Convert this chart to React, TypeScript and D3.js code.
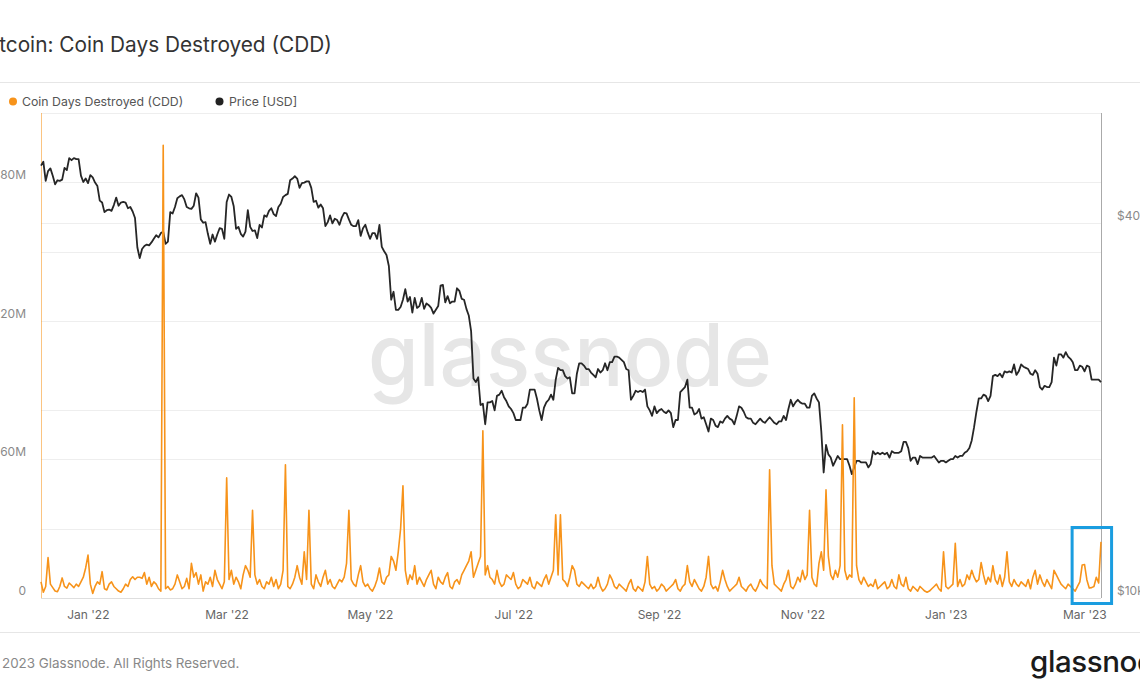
import React from 'react';
import * as d3 from 'd3';

// Daily series, first point = 11 Dec 2021, last point = 7 Mar 2023
const START_UTC = Date.UTC(2021, 11, 11);
const DAY_MS = 86400000;

// Price [USD], thousands
const priceDec21 = [49.4, 50.1, 46.7, 48.4, 48.9, 47.6, 46.1, 46.8, 46.7, 46.9, 49.0, 48.6, 50.8, 50.4, 50.8, 50.6, 50.6, 47.6, 46.5, 47.1, 46.3];
const priceJan22 = [47.7, 47.3, 46.4, 45.8, 43.4, 43.1, 41.6, 41.9, 42.0, 41.8, 42.7, 43.9, 42.6, 43.1, 43.2, 43.1, 42.2, 42.4, 41.7, 40.7, 36.5, 35.1, 36.3, 36.7, 36.9, 36.8, 37.2, 37.7, 38.2, 37.9, 38.5];
const priceFeb22 = [38.7, 37.0, 37.3, 41.6, 41.4, 42.4, 43.8, 44.1, 44.3, 43.6, 42.4, 42.2, 42.1, 42.6, 44.6, 43.9, 40.5, 40.0, 40.1, 38.4, 37.0, 38.3, 37.3, 38.3, 39.2, 39.1, 37.7, 43.2];
const priceMar22 = [44.4, 44.0, 42.5, 39.1, 39.4, 38.4, 38.0, 38.7, 41.9, 39.4, 38.8, 38.9, 37.8, 39.7, 39.3, 41.1, 40.9, 41.8, 42.2, 41.3, 41.0, 42.4, 42.9, 44.0, 44.3, 44.5, 46.8, 47.1, 47.5, 47.1, 45.5];
const priceApr22 = [46.3, 46.4, 46.6, 46.6, 45.5, 43.2, 43.4, 42.3, 42.8, 42.2, 39.5, 40.1, 41.1, 39.9, 40.6, 40.4, 39.7, 40.8, 41.5, 41.4, 40.5, 39.7, 39.5, 39.5, 40.4, 38.1, 39.2, 39.7, 38.6, 37.7];
const priceMay22 = [38.5, 38.5, 37.7, 39.7, 36.6, 36.0, 35.5, 34.1, 30.1, 31.0, 29.0, 29.0, 29.3, 30.1, 31.3, 29.9, 30.4, 28.7, 30.3, 29.2, 29.4, 30.3, 29.1, 29.7, 29.5, 29.2, 28.6, 29.0, 29.4, 31.7, 31.8];
const priceJun22 = [29.8, 30.5, 29.7, 29.9, 29.9, 31.4, 31.1, 30.2, 30.1, 29.1, 28.4, 26.8, 22.5, 22.2, 22.6, 20.4, 20.5, 19.0, 20.6, 20.6, 20.7, 20.0, 21.1, 21.2, 21.5, 21.0, 20.7, 20.3, 20.1, 19.8];
const priceJul22 = [19.3, 19.3, 19.3, 20.2, 20.2, 20.5, 21.6, 21.6, 21.6, 20.9, 20.0, 19.3, 20.2, 20.6, 20.8, 21.2, 20.8, 22.4, 23.4, 23.2, 23.2, 22.7, 22.5, 22.6, 21.3, 21.3, 22.9, 23.8, 23.8, 23.6, 23.3];
const priceAug22 = [23.3, 23.0, 22.8, 22.6, 23.3, 23.0, 23.2, 23.8, 23.2, 23.9, 23.9, 24.4, 24.4, 24.3, 24.1, 23.9, 23.3, 23.2, 20.8, 21.1, 21.5, 21.4, 21.5, 21.4, 21.6, 20.3, 20.0, 19.6, 20.3, 19.8, 20.0];
const priceSep22 = [20.1, 19.9, 19.8, 20.0, 19.8, 18.8, 19.3, 19.3, 21.4, 21.6, 21.8, 22.4, 20.2, 20.2, 19.7, 19.8, 20.1, 19.4, 19.5, 19.0, 18.5, 19.4, 19.3, 18.9, 18.8, 19.2, 19.1, 19.4, 19.6, 19.4];
const priceOct22 = [19.3, 19.0, 19.6, 20.3, 20.2, 19.9, 19.5, 19.4, 19.4, 19.1, 19.0, 19.2, 19.4, 19.2, 19.1, 19.3, 19.5, 19.3, 19.1, 19.0, 19.2, 19.2, 19.6, 19.3, 20.1, 20.8, 20.3, 20.6, 20.8, 20.6, 20.5];
const priceNov22 = [20.5, 20.2, 20.2, 21.1, 21.3, 20.9, 20.6, 18.5, 15.9, 17.6, 17.0, 16.8, 16.3, 16.6, 16.9, 16.7, 16.7, 16.7, 16.7, 16.3, 15.8, 16.2, 16.6, 16.6, 16.5, 16.5, 16.5, 16.2, 16.4, 17.2];
const priceDec22 = [17.0, 17.1, 17.0, 17.1, 17.0, 17.1, 16.8, 17.2, 17.1, 17.1, 17.1, 17.2, 17.8, 17.8, 17.4, 16.6, 16.8, 16.8, 16.4, 16.9, 16.8, 16.8, 16.8, 16.8, 16.8, 16.9, 16.7, 16.5, 16.6, 16.6, 16.5];
const priceJan23 = [16.6, 16.7, 16.7, 16.9, 16.8, 16.9, 16.9, 17.1, 17.2, 17.4, 17.9, 18.8, 19.9, 20.9, 20.9, 21.2, 21.1, 20.7, 21.1, 22.7, 22.8, 22.7, 22.9, 22.6, 23.1, 23.0, 23.1, 23.0, 23.7, 22.8, 23.1];
const priceFeb23 = [23.7, 23.5, 23.4, 23.3, 22.9, 22.8, 23.2, 22.9, 21.8, 21.6, 21.9, 21.8, 21.8, 22.2, 24.3, 23.6, 24.6, 24.6, 24.3, 24.8, 24.4, 24.2, 23.9, 23.2, 23.2, 23.6, 23.5, 23.1];
const priceMar23 = [23.6, 23.5, 22.4, 22.4, 22.4, 22.4, 22.2];

// Coin Days Destroyed, millions
const cddDec21 = [7, 2.5, 5, 17.5, 6, 4.5, 3, 2.7, 5, 8.7, 5, 4.3, 6.5, 5.5, 4.5, 6, 5, 7, 9, 13, 18.6];
const cddJan22 = [6, 2, 5, 7, 6, 11.4, 4, 3.5, 6, 7, 5, 4, 3, 2.5, 4, 6, 5, 8, 9.2, 8, 9, 9, 8.5, 11, 6, 9, 5, 7, 6, 4, 3];
const cddFeb22 = [196, 4, 5, 3.5, 4, 6, 10, 7, 4, 5, 8.5, 4, 15, 9, 11, 6, 10, 3, 7, 6, 9, 5, 12, 8, 6, 4, 7, 52];
const cddMar22 = [8, 12, 6, 9, 7, 4, 10, 14, 12, 9, 38, 10, 6, 8, 5, 4, 7, 6, 9, 5, 8, 4, 6, 12, 57.7, 5, 4, 6, 9, 14, 9];
const cddApr22 = [6, 20, 8, 38, 6, 4, 10, 7, 5, 9, 12, 6, 8, 5, 4, 6, 8, 7, 9, 15, 38, 8, 6, 5, 10, 14, 7, 5, 6, 4];
const cddMay22 = [3, 5, 8, 13, 7, 6, 9, 10, 18, 16, 12, 20, 30, 48.6, 12, 6, 10, 8, 14, 6, 9, 7, 5, 8, 10, 12, 6, 4, 9, 7, 6];
const cddJun22 = [9, 11, 5, 4, 7, 8, 6, 10, 12, 14, 16, 20, 9, 12, 15, 18, 72.4, 10, 14, 9, 8, 6, 12, 7, 5, 6, 10, 9, 8, 11];
const cddJul22 = [6, 4, 5, 8, 7, 6, 9, 5, 4, 7, 6, 5, 8, 10, 6, 9, 12, 36, 10, 36, 8, 7, 5, 9, 14, 12, 6, 5, 7, 6, 5];
const cddAug22 = [4, 6, 4, 5, 9, 5, 3, 4, 6, 10, 8, 5, 4, 6, 5, 4, 3, 6, 8, 4, 3, 5, 4, 3, 7, 18, 6, 4, 5, 3, 4];
const cddSep22 = [6, 5, 3, 4, 5, 6, 8, 4, 3, 5, 6, 14, 7, 5, 8, 6, 4, 3, 5, 9, 18, 6, 4, 5, 3, 7, 12, 8, 5, 3];
const cddOct22 = [4, 5, 6, 9, 5, 4, 3, 5, 6, 4, 3, 5, 8, 6, 5, 4, 55.5, 14, 6, 5, 4, 3, 6, 8, 12, 5, 4, 6, 9, 7, 12];
const cddNov22 = [8, 10, 38, 9, 6, 5, 15, 20, 12, 46.8, 18, 10, 8, 12, 9, 14, 75, 12, 8, 10, 9, 86.7, 14, 8, 6, 9, 7, 5, 6, 5];
const cddDec22 = [8, 4, 5, 6, 7, 4, 5, 8, 5, 4, 10, 6, 5, 9, 4, 3, 5, 4, 3, 5, 4, 3, 2.5, 3, 4, 5, 6, 4, 3, 20, 5];
const cddJan23 = [4, 5, 6, 23.7, 5, 8, 5, 6, 10, 8, 12, 9, 7, 8, 15.3, 10, 6, 9, 7, 14, 8, 6, 10, 5, 9, 20, 7, 5, 8, 6, 5];
const cddFeb23 = [7, 6, 5, 8, 4, 9, 12, 6, 10, 7, 5, 8, 6, 4, 12, 10, 8, 6, 5, 4, 6, 5, 4, 3, 5, 7, 14.3, 14.5];
const cddMar23 = [7.8, 4.3, 4.5, 5, 9, 6.5, 24.3];

const PRICE_K = [
  ...priceDec21, ...priceJan22, ...priceFeb22, ...priceMar22, ...priceApr22, ...priceMay22,
  ...priceJun22, ...priceJul22, ...priceAug22, ...priceSep22, ...priceOct22, ...priceNov22,
  ...priceDec22, ...priceJan23, ...priceFeb23, ...priceMar23,
];
const CDD_M = [
  ...cddDec21, ...cddJan22, ...cddFeb22, ...cddMar22, ...cddApr22, ...cddMay22,
  ...cddJun22, ...cddJul22, ...cddAug22, ...cddSep22, ...cddOct22, ...cddNov22,
  ...cddDec22, ...cddJan23, ...cddFeb23, ...cddMar23,
];

const X_TICK_DATES: [number, number][] = [[2022, 0], [2022, 2], [2022, 4], [2022, 6], [2022, 8], [2022, 10], [2023, 0], [2023, 2]];
const X_TICK_LABELS = ["Jan '22", "Mar '22", "May '22", "Jul '22", "Sep '22", "Nov '22", "Jan '23", "Mar '23"];
const LEFT_TICKS = [0, 60, 120, 180];
const LEFT_TICK_LABELS = ['0', '60M', '120M', '180M'];
const LEFT_GRID = [30, 60, 120, 150, 180, 210];
const RIGHT_TICKS = [10, 40];
const RIGHT_TICK_LABELS = ['$10k', '$40k'];
const RIGHT_GRID = [20, 40];

const ORANGE = '#f7931a';
const FONT = 'Inter, "Noto Sans", sans-serif';

export default function App() {
  const W = 1140;
  const H = 694;
  const L = 41, R = 1101, T = 113, B = 598;

  const dates = PRICE_K.map((_, i) => new Date(START_UTC + i * DAY_MS));
  const x = d3.scaleUtc().domain([dates[0], dates[dates.length - 1]]).range([L, R]);
  const yL = d3.scaleLinear().domain([0, 210]).range([B, T]);
  const yR = d3.scaleLog().domain([10, 60]).range([B, T]);

  const priceLine = d3.line<number>().x((_, i) => x(dates[i])).y((d) => yR(d)).curve(d3.curveLinear);
  const cddDates = CDD_M.map((_, i) => new Date(START_UTC + i * DAY_MS));
  const cddLine = d3.line<number>().x((_, i) => x(cddDates[i])).y((d) => yL(d)).curve(d3.curveLinear);

  // highlight box around the last days
  const boxX0 = x(new Date(Date.UTC(2023, 1, 22, 17)));
  const boxX1 = x(new Date(Date.UTC(2023, 2, 11, 12)));

  return (
    <svg width={W} height={H} viewBox={`0 0 ${W} ${H}`} style={{ position: 'absolute', left: 0, top: 0, display: 'block', background: '#fff' }} fontFamily={FONT}>
      <rect x={0} y={0} width={W} height={H} fill="#fff" />
      {/* title */}
      <text x={-19.5} y={51.5} fontSize={20.8} fill="#333">Bitcoin: Coin Days Destroyed (CDD)</text>
      <line x1={0} x2={W} y1={82.5} y2={82.5} stroke="#e6e6e6" />
      {/* legend */}
      <circle cx={13} cy={101.5} r={4} fill={ORANGE} />
      <text x={22} y={105.5} fontSize={12.3} fill="#555">Coin Days Destroyed (CDD)</text>
      <circle cx={219.5} cy={101.5} r={4} fill="#222" />
      <text x={229} y={105.5} fontSize={12.3} fill="#555">Price [USD]</text>

      {/* watermark */}
      <text x={570} y={386} fontSize={86} fontWeight={500} fill="#e6e6e6" textAnchor="middle" textLength={404} lengthAdjust="spacingAndGlyphs">glassnode</text>

      {/* grid */}
      {LEFT_GRID.map((v) => (
        <line key={'lg' + v} x1={L} x2={R} y1={Math.round(yL(v)) + 0.5} y2={Math.round(yL(v)) + 0.5} stroke="#eeeeee" />
      ))}
      {RIGHT_GRID.map((v) => (
        <line key={'rg' + v} x1={L} x2={R} y1={Math.round(yR(v)) + 0.5} y2={Math.round(yR(v)) + 0.5} stroke="#eeeeee" />
      ))}
      <line x1={L} x2={R} y1={B + 0.5} y2={B + 0.5} stroke="#dedede" />
      <line x1={L + 0.5} x2={L + 0.5} y1={T} y2={B} stroke={ORANGE} strokeOpacity={0.55} />
      <line x1={R + 0.5} x2={R + 0.5} y1={T} y2={B} stroke="#aaaaaa" />

      {/* left axis labels */}
      {LEFT_TICKS.map((v, i) => (
        <text key={'lt' + v} x={26} y={yL(v) - 3} fontSize={12} fill="#8a8a8a" textAnchor="end">{LEFT_TICK_LABELS[i]}</text>
      ))}
      {/* right axis labels */}
      {RIGHT_TICKS.map((v, i) => (
        <text key={'rt' + v} x={1117} y={yR(v) - 3} fontSize={12} fill="#8a8a8a">{RIGHT_TICK_LABELS[i]}</text>
      ))}
      {/* x axis labels */}
      {X_TICK_DATES.map(([yy, mm], i) => (
        <text key={'xt' + i} x={x(new Date(Date.UTC(yy, mm, 1))) - 2} y={619} fontSize={12} fill="#666" textAnchor="middle">{X_TICK_LABELS[i]}</text>
      ))}

      {/* series */}
      <path d={priceLine(PRICE_K) || ''} fill="none" stroke="#262626" strokeWidth={1.8} strokeLinejoin="round" />
      <path d={cddLine(CDD_M) || ''} fill="none" stroke={ORANGE} strokeWidth={1.6} strokeLinejoin="round" />

      {/* highlight box */}
      <rect x={boxX0} y={527.5} width={boxX1 - boxX0} height={76} fill="none" stroke="#1a9de0" strokeWidth={3} />

      {/* footer */}
      <line x1={0} x2={W} y1={632.5} y2={632.5} stroke="#e6e6e6" />
      <text x={-14} y={667.5} fontSize={13.4} fill="#888">© 2023 Glassnode. All Rights Reserved.</text>
      <text x={1030} y={672} fontSize={29.5} fontWeight={500} fill="#1b1b1b" letterSpacing={-0.4}>glassnode</text>
    </svg>
  );
}
